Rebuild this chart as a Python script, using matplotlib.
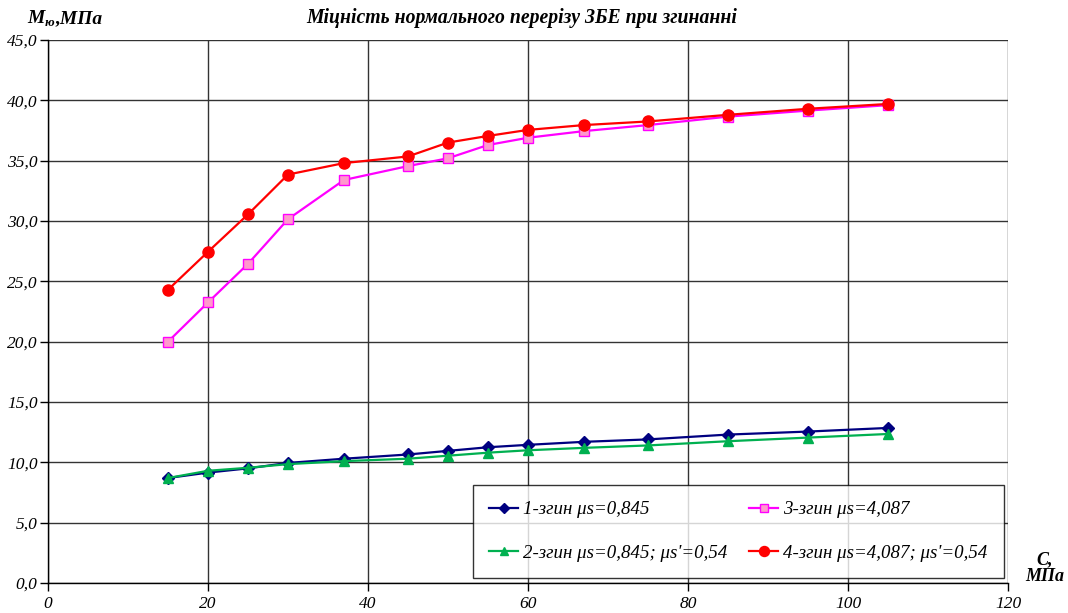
import matplotlib
matplotlib.use("Agg")
import matplotlib.pyplot as plt
from matplotlib.ticker import FuncFormatter, MultipleLocator

x_vals = [15, 20, 25, 30, 37, 45, 50, 55, 60, 67, 75, 85, 95, 105]
s1 = [8.7, 9.15, 9.5, 9.95, 10.3, 10.65, 10.95, 11.25, 11.45, 11.7, 11.9, 12.3, 12.55, 12.85]
s2 = [8.7, 9.3, 9.55, 9.85, 10.1, 10.3, 10.55, 10.8, 11.0, 11.2, 11.4, 11.75, 12.05, 12.35]
s3 = [20.0, 23.25, 26.45, 30.15, 33.4, 34.55, 35.2, 36.3, 36.9, 37.45, 37.95, 38.65, 39.15, 39.6]
s4 = [24.3, 27.45, 30.55, 33.85, 34.8, 35.35, 36.5, 37.05, 37.55, 37.95, 38.25, 38.8, 39.3, 39.7]

labels = ["1-згин μs=0,845", "2-згин μs=0,845; μs'=0,54",
          "3-згин μs=4,087", "4-згин μs=4,087; μs'=0,54"]
title = "Міцність нормального перерізу ЗБЕ при згинанні"

serif = ["Liberation Serif", "DejaVu Serif"]
plt.rcParams['font.family'] = serif

W, H = 1068, 613
fig = plt.figure(figsize=(W / 100, H / 100), dpi=100)
ax = fig.add_axes([48 / W, 1 - 583 / H, (1008 - 48) / W, (583 - 40) / H])

lw = 1.6
l1, = ax.plot(x_vals, s1, color="#000080", lw=lw, marker="D", ms=6,
              mfc="#000080", mec="#000080", zorder=5)
l2, = ax.plot(x_vals, s2, color="#00b050", lw=lw, marker="^", ms=6.5,
              mfc="#00b050", mec="#00b050", zorder=5)
l3, = ax.plot(x_vals, s3, color="#ff00ff", lw=lw, marker="s", ms=6.5,
              mfc="#ff99cc", mec="#ff00ff", mew=1.0, zorder=5)
l4, = ax.plot(x_vals, s4, color="#ff0000", lw=lw, marker="o", ms=8,
              mfc="#ff0000", mec="#ff0000", zorder=6)

ax.set_xlim(0, 120)
ax.set_ylim(0, 45)
ax.xaxis.set_major_locator(MultipleLocator(20))
ax.yaxis.set_major_locator(MultipleLocator(5))
ax.yaxis.set_major_formatter(FuncFormatter(lambda v, p: f"{v:.1f}".replace(".", ",")))
ax.grid(True, color="#333333", lw=1.0)
ax.set_axisbelow(True)
for s in ["top", "right"]:
    ax.spines[s].set_visible(False)
for s in ["left", "bottom"]:
    ax.spines[s].set_color("black")
    ax.spines[s].set_linewidth(1.0)
ax.tick_params(direction="out", length=6, width=1.0, colors="black",
               labelsize=12.5)
for t in ax.get_xticklabels() + ax.get_yticklabels():
    t.set_fontstyle("italic")
ax.tick_params(axis="x", pad=3)
ax.tick_params(axis="y", pad=1.5)

leg = ax.legend([l1, l2, l3, l4], labels, ncol=2, loc="upper left",
                bbox_to_anchor=(473 / W, 1 - 485 / H),
                bbox_transform=fig.transFigure,
                frameon=True, fancybox=False, edgecolor="black",
                prop={"family": serif, "style": "italic", "size": 13.6},
                labelspacing=1.4, handlelength=1.55, handletextpad=0.25,
                columnspacing=1.15, borderpad=0.85, borderaxespad=0,
                markerscale=0.9)
leg.get_frame().set_linewidth(1.0)
leg.set_zorder(10)

fig.text(522 / W, 1 - 18 / H, title, ha="center", va="center",
         fontsize=14.2, fontweight="bold", fontstyle="italic")

fig.text(27 / W, 1 - 23 / H, "M", ha="left", va="baseline",
         fontsize=14, fontweight="bold", fontstyle="italic")
fig.text(44.5 / W, 1 - 26 / H, "ю", ha="left", va="baseline",
         fontsize=9.5, fontweight="bold", fontstyle="italic")
fig.text(55 / W, 1 - 23 / H, ",МПа", ha="left", va="baseline",
         fontsize=14, fontweight="bold", fontstyle="italic")

fig.text(1045 / W, 1 - 568 / H, "C,\nМПа", ha="center", va="center",
         fontsize=13, fontweight="bold", fontstyle="italic", linespacing=1.0)

fig.savefig("out.png", dpi=100)
